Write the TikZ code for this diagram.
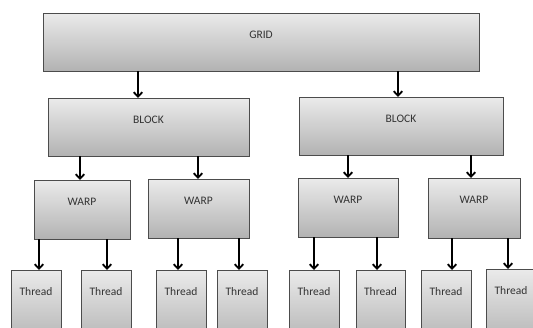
\documentclass[tikz,border=0pt]{standalone}
\usepackage{fontspec}
\setmainfont{Carlito}
\usetikzlibrary{arrows.meta,shadows}
\begin{document}
\begin{tikzpicture}[x=1bp,y=-1bp,
  box/.style={draw=black!70,line width=1bp,top color=black!8,bottom color=black!30,
    drop shadow={shadow xshift=0.8bp,shadow yshift=-0.8bp,opacity=0.35}},
  lbl/.style={font=\fontsize{11.5bp}{13bp}\selectfont,text=black!80},
  arr/.style={line width=1.8bp,-{Straight Barb[length=4.5bp,width=8.5bp,line width=1.8bp]}}]
\useasboundingbox (0,0) rectangle (533,327);
\clip (0,0) rectangle (533,327);
\fill[white] (0,0) rectangle (533,327);
% boxes
\newcommand\mybox[6]{%
  \path[box] (#2,#3) rectangle (#4,#5);
  \node[lbl] (#1) at ({(#2+#4)/2},{#3+22}) {#6};
  \path (#2,#3) rectangle (#4,#5) coordinate[pos=0] (#1-tl) coordinate[pos=1] (#1-br);
}
\mybox{grid}{43}{13}{479}{71}{GRID}
\mybox{b1}{48}{98}{249}{156}{BLOCK}
\mybox{b2}{299}{97}{503}{155}{BLOCK}
\mybox{w1}{34}{180}{130}{239}{WARP}
\mybox{w2}{148}{179}{249}{238}{WARP}
\mybox{w3}{298}{178}{398}{237}{WARP}
\mybox{w4}{428}{178}{520}{238}{WARP}
\mybox{t1}{11}{270}{61}{345}{Thread}
\mybox{t2}{81}{270}{131}{345}{Thread}
\mybox{t3}{156}{270}{206}{345}{Thread}
\mybox{t4}{217}{270}{267}{345}{Thread}
\mybox{t5}{289}{270}{339}{345}{Thread}
\mybox{t6}{356}{270}{405}{345}{Thread}
\mybox{t7}{421}{270}{471}{345}{Thread}
\mybox{t8}{486}{269}{536}{345}{Thread}
% arrows: from bottom edge of parent to top edge of child at given x
\newcommand\myarr[3]{%
  \coordinate (ax) at (#3,0);
  \draw[arr] (#1-br -| ax) -- (#2-tl -| ax);
}
\myarr{grid}{b1}{138}
\myarr{grid}{b2}{398}
\myarr{b1}{w1}{80}
\myarr{b1}{w2}{198}
\myarr{b2}{w3}{348}
\myarr{b2}{w4}{471}
\myarr{w1}{t1}{39}
\myarr{w1}{t2}{107}
\myarr{w2}{t3}{178}
\myarr{w2}{t4}{239}
\myarr{w3}{t5}{314}
\myarr{w3}{t6}{377}
\myarr{w4}{t7}{452}
\myarr{w4}{t8}{508}
\end{tikzpicture}
\end{document}
